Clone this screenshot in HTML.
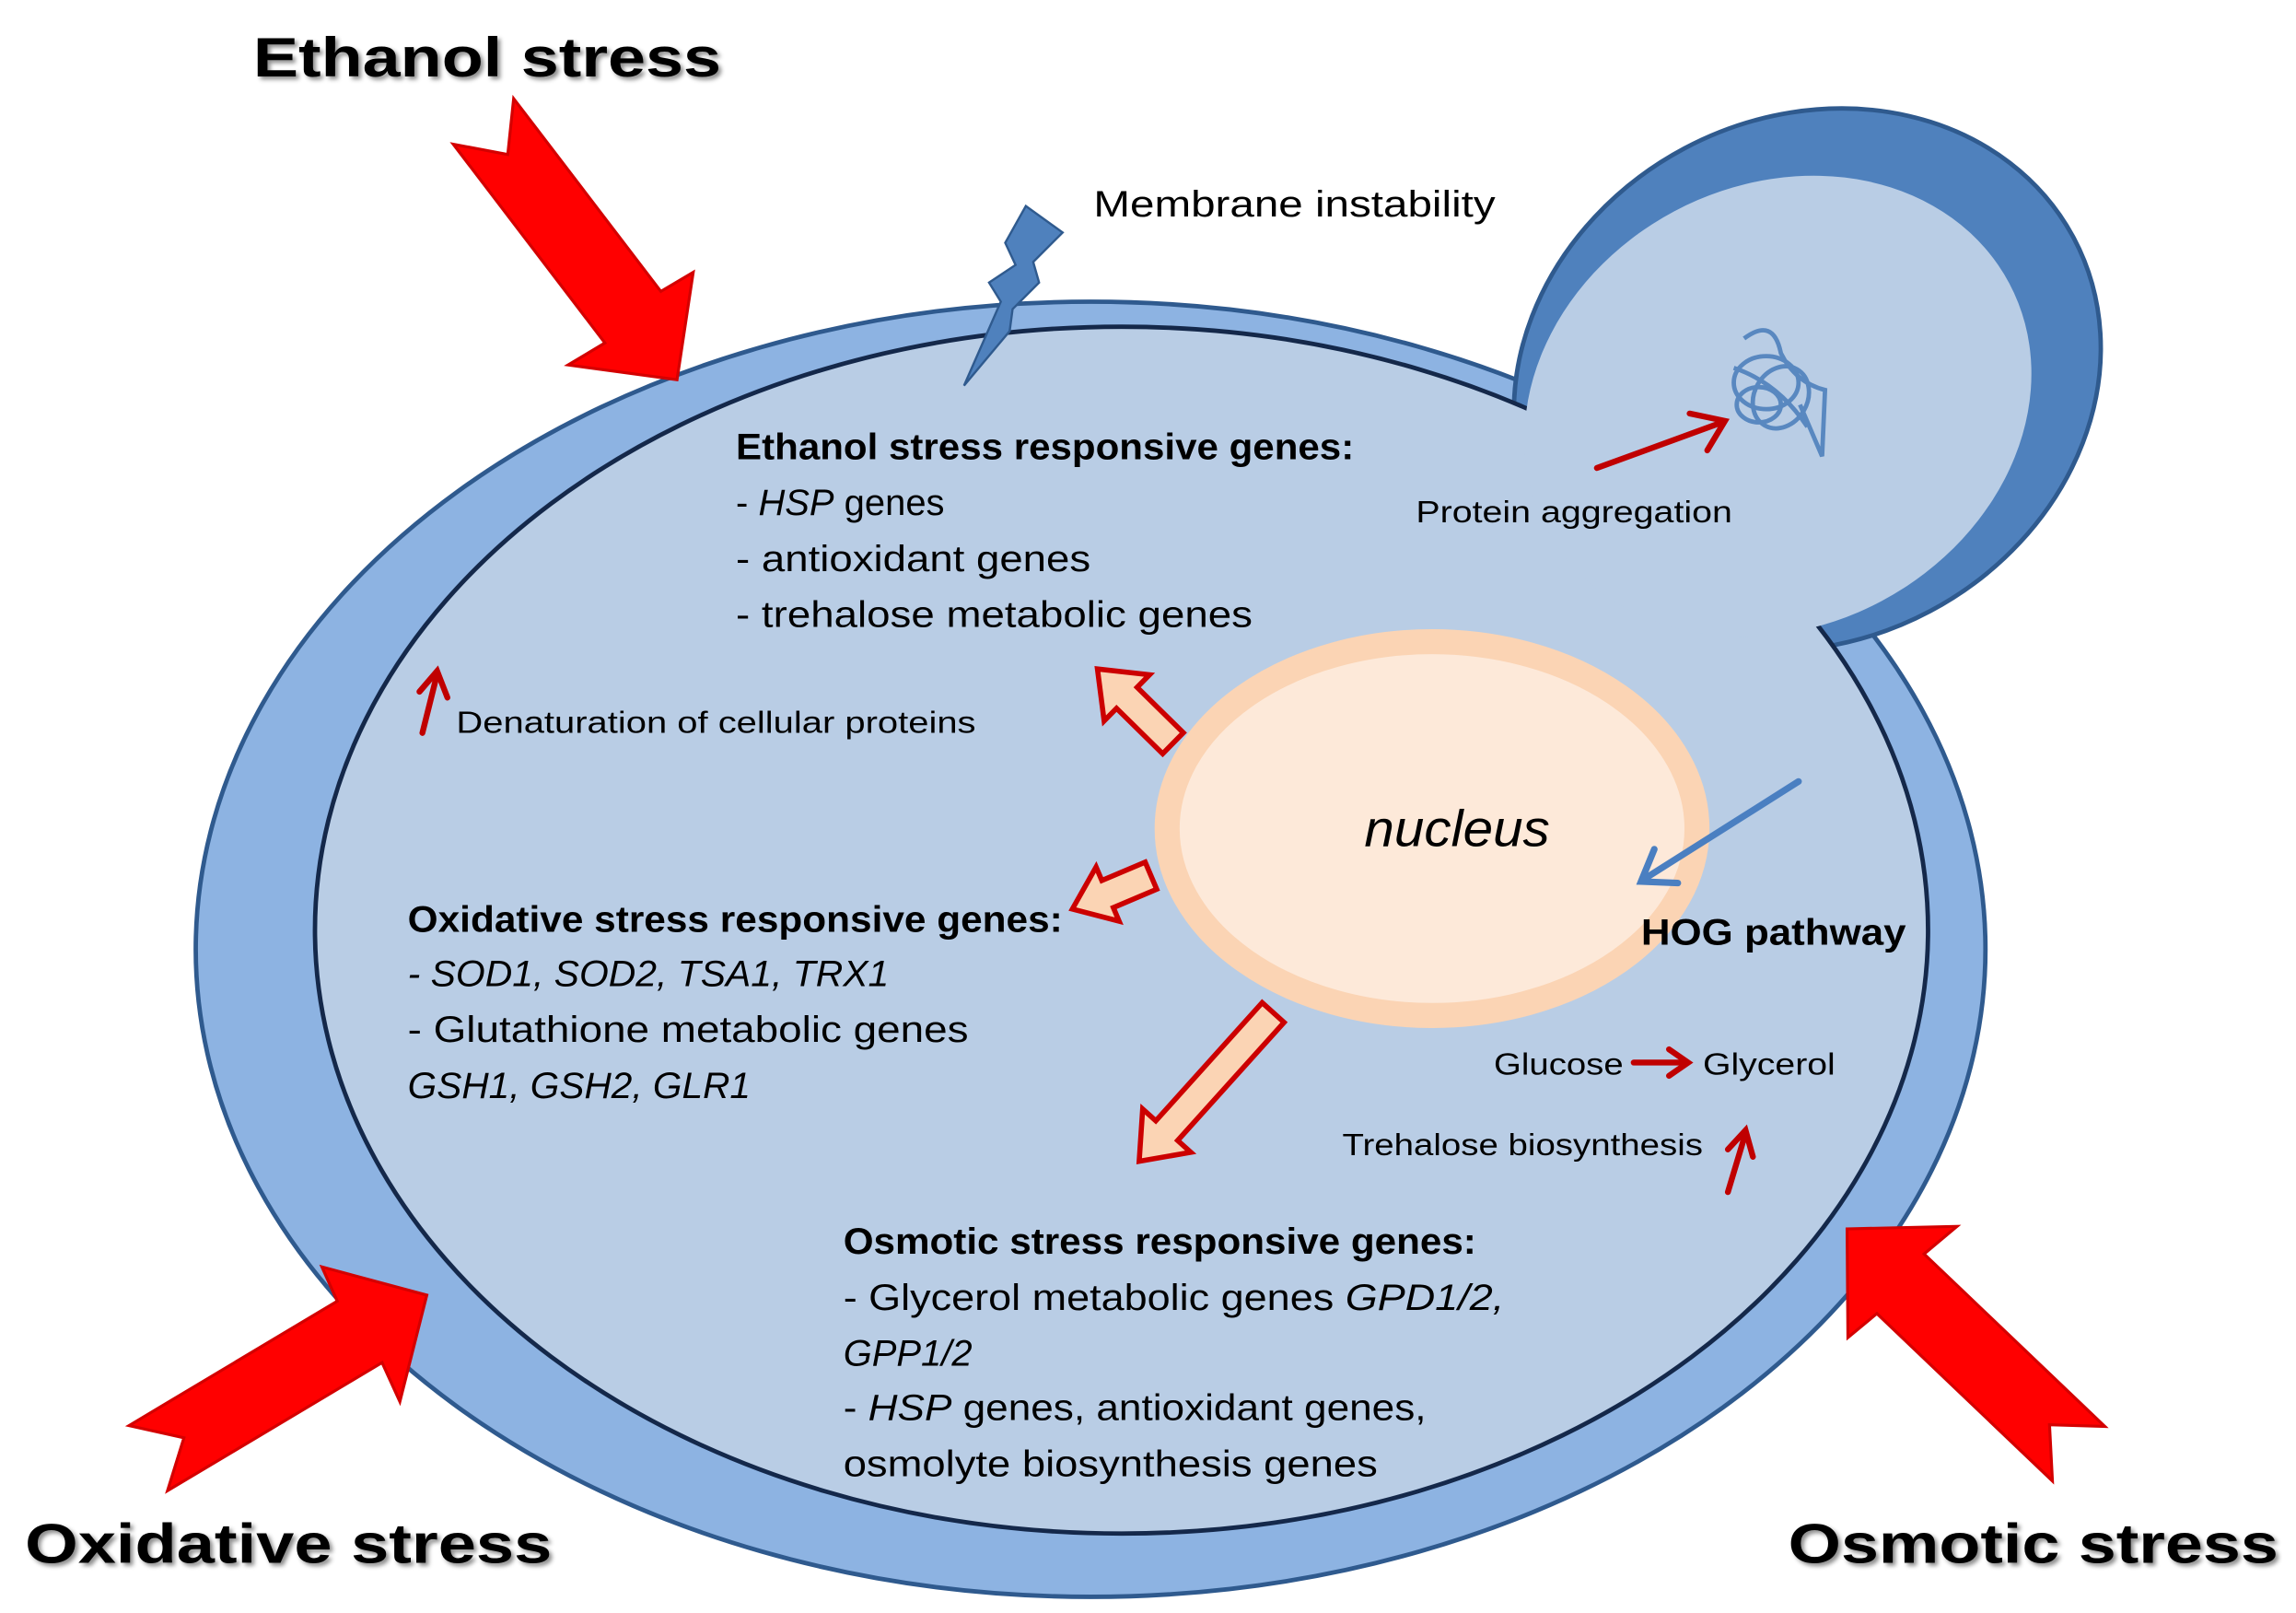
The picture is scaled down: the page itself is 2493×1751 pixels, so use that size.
<!DOCTYPE html>
<html><head><meta charset="utf-8"><style>html,body{margin:0;padding:0;background:#fff}svg{display:block}</style></head>
<body>
<svg width="2493" height="1751" viewBox="0 0 1560 1096" preserveAspectRatio="none" xmlns="http://www.w3.org/2000/svg">
<defs>
<filter id="sh" x="-10%" y="-10%" width="120%" height="130%"><feDropShadow dx="2" dy="2" stdDeviation="1.5" flood-color="#000" flood-opacity="0.45"/></filter>
</defs>
<!-- main cell wall -->
<ellipse cx="741" cy="645" rx="608" ry="440" fill="#8db3e2" stroke="#2f5a8e" stroke-width="3"/>
<!-- bud outer -->
<ellipse cx="1228" cy="258" rx="205" ry="178" transform="rotate(-28 1228 258)" fill="#4f81bd" stroke="#2f5a8e" stroke-width="3"/>
<!-- main inner -->
<ellipse cx="762" cy="632" rx="548" ry="410" fill="#b9cde5" stroke="#14284a" stroke-width="3"/>
<!-- bud inner -->
<ellipse cx="1208" cy="276" rx="178" ry="150" transform="rotate(-28 1208 276)" fill="#b9cde5"/>
<!-- lightning -->
<polygon points="655,262 680,205 672,192 690,180 683,165 697,140 722,158 702,178 706,192 688,210 686,225" fill="#4f81bd" stroke="#2f5a8e" stroke-width="1.5"/>
<!-- nucleus -->
<ellipse cx="973" cy="563" rx="180" ry="127" fill="#fde9d9" stroke="#fbd4b4" stroke-width="17"/>
<!-- big red arrows -->
<polygon points="349,67 449,198 471,185 460,258 386,248 411,233 308,98 345,105" fill="#ff0000" stroke="#d40000" stroke-width="2"/>
<g transform="translate(290,880) rotate(-83.5) translate(-460,-258)"><polygon points="349,67 449,198 471,185 460,258 386,248 411,233 308,98 345,105" fill="#ff0000" stroke="#d40000" stroke-width="2"/></g>
<g transform="translate(1255,835) rotate(-189) translate(-460,-258)"><polygon points="349,67 449,198 471,185 460,258 386,248 411,233 308,98 345,105" fill="#ff0000" stroke="#d40000" stroke-width="2"/></g>
<!-- hollow arrows -->
<g fill="#fbd4b4" stroke="#cc0000" stroke-width="3.5" stroke-linejoin="miter">
<path transform="translate(797,505) rotate(-135.5)" d="M0,-10 L44,-10 L44,-22 L72,0 L44,22 L44,10 L0,10 Z"/>
<path transform="translate(782,595) rotate(157)" d="M0,-10 L32,-10 L32,-20 L58,0 L32,20 L32,10 L0,10 Z"/>
<path transform="translate(865,688) rotate(132)" d="M0,-10 L108,-10 L108,-22 L136,0 L108,22 L108,10 L0,10 Z"/>
</g>
<!-- small red arrows -->
<g stroke="#c00000" stroke-width="4" fill="none" stroke-linecap="round">
<line x1="1085" y1="318" x2="1170" y2="287"/><polyline points="1148,281 1172,286 1160,306"/>
<line x1="287" y1="498" x2="297" y2="458"/><polyline points="285,470 297,456 304,474"/>
<line x1="1110" y1="722" x2="1145" y2="722"/><polyline points="1134,713 1147,722 1134,731"/>
<line x1="1174" y1="810" x2="1186" y2="770"/><polyline points="1174,781 1186,768 1191,786"/>
</g>
<!-- HOG arrow -->
<g stroke="#4a7fc1" stroke-width="4.5" fill="none" stroke-linecap="round">
<line x1="1222" y1="531" x2="1116" y2="598"/><polyline points="1124,577 1115,599 1140,600"/>
</g>
<!-- protein aggregate -->
<g stroke="#4f81bd" stroke-width="3" fill="none" opacity="0.9">
<ellipse cx="1200" cy="260" rx="22" ry="18"/><ellipse cx="1210" cy="270" rx="18" ry="22" transform="rotate(30 1210 270)"/>
<ellipse cx="1195" cy="275" rx="15" ry="12"/><path d="M1185,230 q20,-15 25,10 q10,20 30,25 l-2,45 l-15,-35"/>
<path d="M1178,250 q30,10 50,40"/>
</g>
<!-- text -->
<g font-family="'Liberation Sans',sans-serif" fill="#000">
<g font-weight="bold" font-size="38" filter="url(#sh)">
<text x="172" y="52" textLength="318" lengthAdjust="spacingAndGlyphs">Ethanol stress</text>
<text x="17" y="1062" textLength="358" lengthAdjust="spacingAndGlyphs">Oxidative stress</text>
<text x="1215" y="1062" textLength="333" lengthAdjust="spacingAndGlyphs">Osmotic stress</text>
</g>
<text x="743" y="147" font-size="25" textLength="273" lengthAdjust="spacingAndGlyphs">Membrane instability</text>
<text x="500" y="312" font-size="25" font-weight="bold" textLength="420" lengthAdjust="spacingAndGlyphs">Ethanol stress responsive genes:</text>
<text x="500" y="350" font-size="25">- <tspan font-style="italic">HSP</tspan> genes</text>
<text x="500" y="388" font-size="25" textLength="241" lengthAdjust="spacingAndGlyphs">- antioxidant genes</text>
<text x="500" y="426" font-size="25" textLength="351" lengthAdjust="spacingAndGlyphs">- trehalose metabolic genes</text>
<text x="962" y="355" font-size="21" textLength="215" lengthAdjust="spacingAndGlyphs">Protein aggregation</text>
<text x="310" y="498" font-size="21" textLength="353" lengthAdjust="spacingAndGlyphs">Denaturation of cellular proteins</text>
<text x="927" y="575" font-size="35" font-style="italic" textLength="126" lengthAdjust="spacingAndGlyphs">nucleus</text>
<text x="1115" y="642" font-size="25" font-weight="bold" textLength="180" lengthAdjust="spacingAndGlyphs">HOG pathway</text>
<text x="277" y="633" font-size="25" font-weight="bold" textLength="445" lengthAdjust="spacingAndGlyphs">Oxidative stress responsive genes:</text>
<text x="277" y="670" font-size="25" font-style="italic" textLength="327" lengthAdjust="spacingAndGlyphs">- SOD1, SOD2, TSA1, TRX1</text>
<text x="277" y="708" font-size="25" textLength="381" lengthAdjust="spacingAndGlyphs">- Glutathione metabolic genes</text>
<text x="277" y="746" font-size="25" font-style="italic" textLength="233" lengthAdjust="spacingAndGlyphs">GSH1, GSH2, GLR1</text>
<text x="1015" y="730" font-size="21" textLength="88" lengthAdjust="spacingAndGlyphs">Glucose</text>
<text x="1157" y="730" font-size="21" textLength="90" lengthAdjust="spacingAndGlyphs">Glycerol</text>
<text x="912" y="785" font-size="21" textLength="245" lengthAdjust="spacingAndGlyphs">Trehalose biosynthesis</text>
<text x="573" y="852" font-size="25" font-weight="bold" textLength="430" lengthAdjust="spacingAndGlyphs">Osmotic stress responsive genes:</text>
<text x="573" y="890" font-size="25" textLength="449" lengthAdjust="spacingAndGlyphs">- Glycerol metabolic genes <tspan font-style="italic">GPD1/2,</tspan></text>
<text x="573" y="928" font-size="25" font-style="italic">GPP1/2</text>
<text x="573" y="965" font-size="25" textLength="396" lengthAdjust="spacingAndGlyphs">- <tspan font-style="italic">HSP</tspan> genes, antioxidant genes,</text>
<text x="573" y="1003" font-size="25" textLength="363" lengthAdjust="spacingAndGlyphs">osmolyte biosynthesis genes</text>
</g>
</svg>
</body></html>
